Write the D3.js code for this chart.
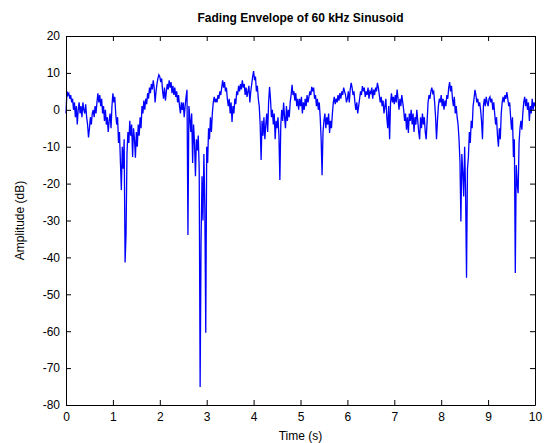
<!DOCTYPE html>
<html>
<head>
<meta charset="utf-8">
<script src="https://cdn.jsdelivr.net/npm/d3@7"></script>
<style>
  body { margin: 0; background: #fff; }
  svg text { font-family: "Liberation Sans", Arial, sans-serif; }
</style>
</head>
<body>
<div id="my_dataviz"></div>
<script>
// tick labels
const xTicks = [0, 1, 2, 3, 4, 5, 6, 7, 8, 9, 10];
const yTicks = [20, 10, 0, -10, -20, -30, -40, -50, -60, -70, -80];

// sample spacing of the envelope (s)
const sampleStep = 0.02;

// envelope amplitude in dB, one row per 0.5 s
const amplitude = [
  -1, 5, 4, 4.5, 3, 4, 2, 3, 0, 2, -2, 1, -4, 0, 2, -1, 1, -2, 2, 0, -1, 1.5, -2, -4, -7.5,
  -5, -2, -4, -1, 0, -2, 1, -1, 2, 4.5, 2, 4, 1, 3, -1, 1, -3, 0, -4, -2, -6, -3, -1, -5, 1,
  4.5, 2, 3.5, -1, -4, -2, -9, -6, -14, -21.7, -10, -16, -8, -41.4, -33.9, -12, -6, -9, -3, -7, -4, -12.8, -5, -8, -13,
  -6, -10, -4, -7, -2, -5, 1, -1, 2.5, 0, 3, 1.5, 4.5, 3, 6, 4.5, 7, 5.5, 8, 6, 2, 5, 7, 8.5, 9.5,
  9, 7.5, 8.5, 5, 3, 6, 2.5, 5, 7, 5.5, 8, 6, 7.5, 4.5, 6.5, 4, 6, 3.5, 5, 2, 4, 1, -1, 2, 0,
  2, -2, 1, 3.5, 5.4, -33.9, 1, -2, -6, -1, -14.4, -4, -9, -18, -8, -11, -7, -16, -75.1, -35.3, -18, -30, -12, -26.6, -60.4,
  -10, -14.4, -5, -8, -2, -6, -1, 2, 3.5, 2, 3, 2, 4, 3, 5, 4, 6, 8, 6, 7.5, 5, 6, 3, 1, 3,
  -1, 2, -3.3, 1, -1, 3, 1.5, 5, 4, 6.5, 5, 7, 5.5, 8, 6, 7, 4, 6, 3.5, 5, 6.5, 2, 5, 7, 9,
  10.5, 8, 9, 5, 6.5, 3, 1, -4, -13.6, -3, -7, -2, -8, -4, -1, -6, 2, 6.2, 3, -2, 0, -4, -1, -8, -3,
  -5, -2, -7, -19, -4, 0, -3, 2, -2, -5, 1, -3, 0, -2, 2, 4, 6.8, 4, 5, 2.5, 4.5, 1, 3, 0, 3,
  1, 3.5, -1, 2, 0, 3, 1, 4, 2, 3.5, 5, 4, 6.2, 5, 6, 3, 4, 1, 3, 0, 2, -2, -8, -17.7, -6,
  -3, -1, -5, -2, -4, -1, -6.3, -3, -5, -1, 2, 3.5, 1.5, 3, 2, 4, 2.5, 4.5, 3, 5, 4, 6, 5, 4, 2,
  3, 5, 2, 5.5, 7.3, 6, 4, 5, 2, 0, 2, -1, 1, 3, 5, 4, 6.4, 5, 6, 3.5, 5, 4, 6, 3, 5,
  4.5, 6, 3, 5.5, 4, 6, 5, 7.3, 6, 4, 2, 3.5, 1, 2.5, -1, 1, 3, -2, -5, 1, -8, 2, 4.5, 2, 3.5,
  1.5, 4, 2, 5.5, 3, 0, 3, 1, 4, 2, 0, -3, -1, -5.4, -2, -6.3, -1, -3, 0, -4, -1, -6, -2, -4, 0,
  -3, -6, -8, -2, -5, -1, -4, -2, -6, -8, -3, 2, 4, 3, 5, 6, 4.5, 5, 2, -2, -8, -3, 1, 3, 2,
  4, 1, 3, 0, 2.5, 1, 4, 3, 6, 7.5, 5, 6.5, 3, 1, 3.5, -1, 1, -2, -4, -8, -14, -30.3, -12, -17, -23.5,
  -10, -22.2, -45.5, -16, -12.8, -6, -9, -3, -5, 1, 3, 5.4, 4, 2, 3, 1, 2, 0, -3, -8, 1, 3, 1, 3.5, 2,
  1, 3, 3.5, 2, 3, 0, 2, -1, -4, -2, -7, -10, -5, -8, -1, 2, 3.5, 2, 4, 3, 4.8, 3, 1, 2, -2,
  -5.4, -2, -12.8, -8, -44.2, -15, -20, -22.6, -9, -5, -3, -5.4, -1, 2, 3.5, 1, 3, 0, 2, -3, 1, -1, 3, 0, 2,
  1
];

// set the dimensions and margins of the graph
const margin = { top: 36, right: 16, bottom: 38, left: 66 },
  width = 551 - margin.left - margin.right,
  height = 443 - margin.top - margin.bottom;

const svg = d3.select("#my_dataviz")
  .append("svg")
  .attr("width", width + margin.left + margin.right)
  .attr("height", height + margin.top + margin.bottom)
  .append("g")
  .attr("transform", `translate(${margin.left},${margin.top})`);

const x = d3.scaleLinear().domain([0, 10]).range([0, width]);
const y = d3.scaleLinear().domain([-80, 20]).range([height, 0]);

// envelope trace
const line = d3.line()
  .x((d, i) => x(i * sampleStep))
  .y(d => y(d));

svg.append("path")
  .datum(amplitude)
  .attr("fill", "none")
  .attr("stroke", "#0000ff")
  .attr("stroke-width", 1.3)
  .attr("stroke-linejoin", "miter")
  .attr("d", line);

// axes, ticks pointing inward on all four sides
const plain = d => String(d);   // ASCII hyphen for negatives, like the original
const tickStyle = g => {
  g.selectAll("text").attr("font-size", 12).attr("fill", "#000");
  g.selectAll("line").attr("stroke", "#000");
  g.select(".domain").attr("stroke", "#000");
};

svg.append("g")
  .attr("transform", `translate(0,${height})`)
  .call(d3.axisBottom(x).tickValues(xTicks).tickFormat(plain).tickSizeInner(-5).tickSizeOuter(0).tickPadding(7))
  .call(tickStyle);

svg.append("g")
  .call(d3.axisLeft(y).tickValues(yTicks).tickFormat(plain).tickSizeInner(-5).tickSizeOuter(0).tickPadding(6))
  .call(tickStyle);

svg.append("g")
  .call(d3.axisTop(x).tickValues(xTicks).tickSizeInner(-5).tickSizeOuter(0).tickFormat(""))
  .call(tickStyle);

svg.append("g")
  .attr("transform", `translate(${width},0)`)
  .call(d3.axisRight(y).tickValues(yTicks).tickSizeInner(-5).tickSizeOuter(0).tickFormat(""))
  .call(tickStyle);

// title and axis labels
svg.append("text")
  .attr("x", width / 2)
  .attr("y", -14)
  .attr("text-anchor", "middle")
  .attr("font-size", 12)
  .attr("font-weight", "bold")
  .text("Fading Envelope of 60 kHz Sinusoid");

svg.append("text")
  .attr("x", width / 2)
  .attr("y", height + 35)
  .attr("text-anchor", "middle")
  .attr("font-size", 12)
  .text("Time (s)");

svg.append("text")
  .attr("transform", `translate(-42,${height / 2}) rotate(-90)`)
  .attr("text-anchor", "middle")
  .attr("font-size", 12)
  .text("Amplitude (dB)");
</script>
</body>
</html>
